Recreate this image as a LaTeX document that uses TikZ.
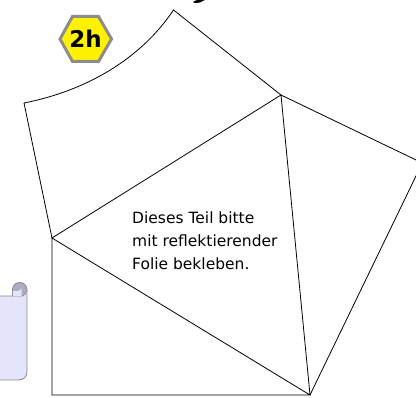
\documentclass[tikz,border=0pt]{standalone}
\usepackage{fontspec}
\setmainfont{DejaVu Sans}
\definecolor{rollc}{RGB}{172,172,200}
\definecolor{pagec}{RGB}{228,228,250}
\begin{document}
\begin{tikzpicture}[x=1pt,y=-1pt,
  edge/.style={draw=black,line width=0.8pt,line join=miter},
  lbl/.style={font=\fontsize{15.5}{23}\selectfont,align=left,anchor=north west,inner sep=0pt,text=black}]
\useasboundingbox (0,0) rectangle (416,398);
\coordinate (T) at (173.5,10);
\coordinate (L) at (24,103);
\coordinate (A) at (281,95);
\coordinate (B) at (52,238);
\coordinate (C) at (310,395);
\coordinate (D) at (52,395);
\coordinate (E) at (422.3,163);
\draw[edge] (L) .. controls (85,91) and (140,60) .. (T) -- (A) -- (B) -- (L);
\draw[edge] (A) -- (C) -- (B) -- (D) -- (C);
\draw[edge] (A) -- (E) -- (C);
\fill[black] (193,2) -- (197,0) -- (205,0) -- (200,2.5) -- (195,3.2) -- cycle;
% scroll
\draw[draw=black!45,fill=pagec,line width=0.8pt] (-3,296) -- (12.5,296) -- (12.5,290)
  .. controls (12.5,286) and (15.5,282.5) .. (19.7,282.5)
  .. controls (24,282.5) and (27,286) .. (27,290) -- (27,371)
  .. controls (27,377) and (24,380) .. (18,380) -- (-3,380);
\draw[draw=black!45,fill=rollc,line width=0.6pt] (12.5,296) -- (12.5,290)
  .. controls (12.5,286) and (15.5,282.5) .. (19.7,282.5)
  .. controls (24,282.5) and (27,286) .. (27,290)
  .. controls (27,293) and (25,295) .. (22.5,296) -- cycle;
\fill[pagec] (13.2,296) -- (13.2,291) -- (19,291) -- (21.5,288.5) -- (21.5,296) -- cycle;
% badge
\path[fill=yellow,draw=black!45,line width=3pt] (60,39) -- (72.5,16.5) -- (98.5,16.5) -- (111.5,39) -- (98.5,61.5) -- (72.5,61.5) -- cycle;
\node[font=\fontsize{23}{23}\selectfont\bfseries,text=black,inner sep=0pt] (h) at (85.5,39) {2h};
\node[lbl] (t) at (132,212) {Dieses Teil bitte\\mit reflektierender\\Folie bekleben.};
\end{tikzpicture}
\end{document}
